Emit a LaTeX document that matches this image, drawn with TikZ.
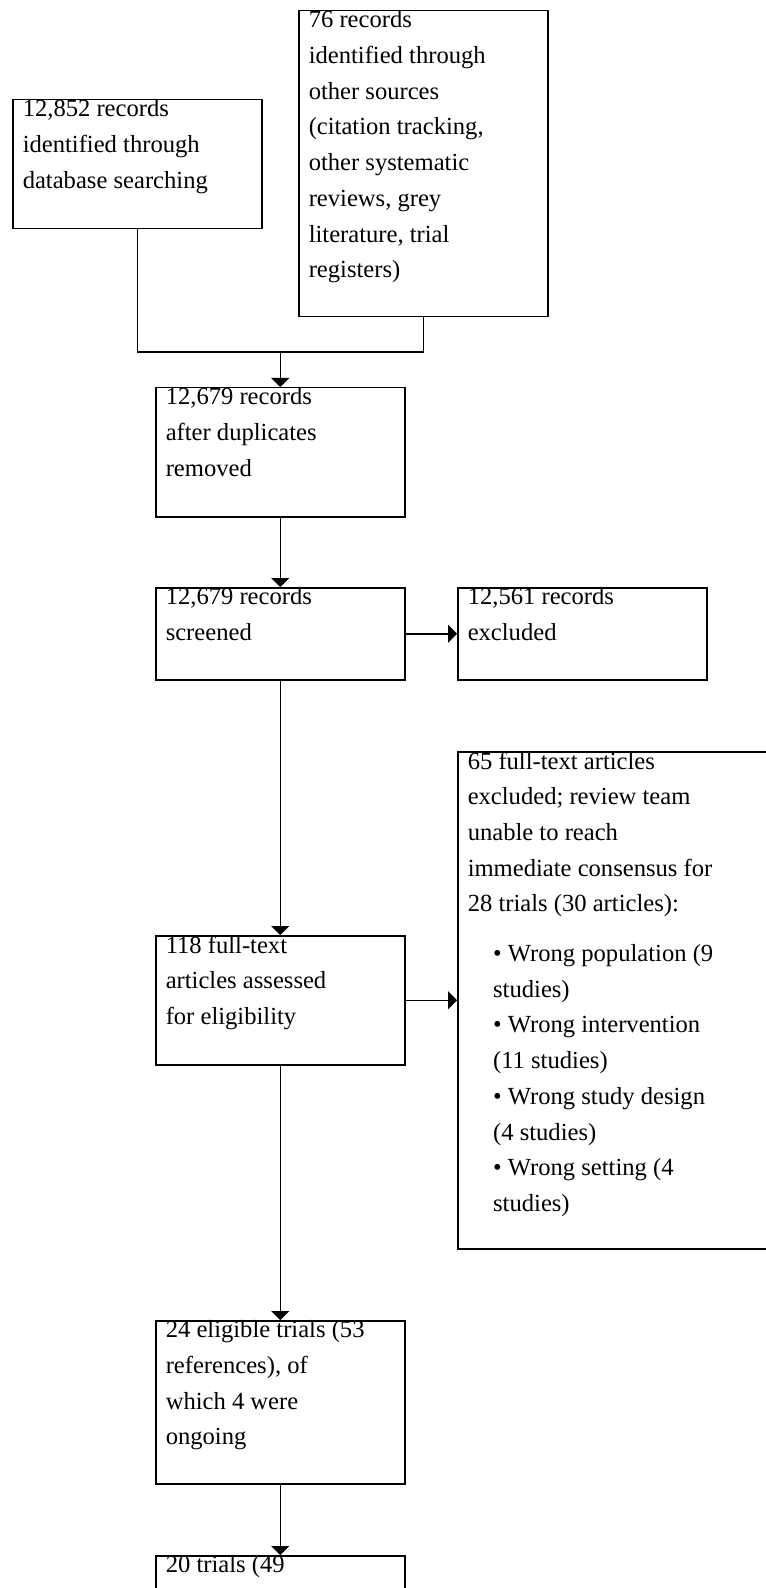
\documentclass[tikz,border=0pt]{standalone}
\usepackage{fontspec}
\setmainfont{Liberation Serif}
\usetikzlibrary{arrows.meta}

\newcommand\boxtxt[3][114.5pt]{\parbox[c][#2][t]{#1}{\raggedright #3}}

\begin{document}
\begin{tikzpicture}[x=0.5pt, y=-0.5pt,
    box/.style={draw, line width=0.75pt, anchor=north west, inner xsep=5pt,
      inner ysep=0pt, font=\fontsize{12.3pt}{17.85pt}\selectfont},
    flow/.style={line width=0.75pt, -{Triangle[width=9pt,length=4.5pt]}}]
  \useasboundingbox (0,0) rectangle (765,1588);
  %sources
  \node[box] (dbsearch) at (12,99)
        {\boxtxt{64.5pt}{12,852 records\\identified through\\database searching}};
  \node[box] (othersrc) at (298,10)
        {\boxtxt{153pt}{76 records\\identified through\\other sources\\(citation tracking,\\
          other systematic\\reviews, grey\\literature, trial\\registers)}};
  %screening
  \node[box] (dupremoved) at (155,387)
        {\boxtxt{64.5pt}{12,679 records\\after duplicates\\removed}};
  \node[box] (screened) at (155,587)
        {\boxtxt{46pt}{12,679 records\\screened}};
  \node[box] (excluded) at (457,587)
        {\boxtxt{46pt}{12,561 records\\excluded}};
  %eligibility
  \node[box] (fulltext) at (155,935)
        {\boxtxt{64.5pt}{118 full-text\\articles assessed\\for eligibility}};
  \node[box] (ftexcluded) at (457,751)
        {\boxtxt[151.5pt]{248.5pt}{65 full-text articles\\excluded; review team\\
          unable to reach\\immediate consensus for\\28 trials (30 articles):\\[7pt]
          \hspace*{12.7pt}• Wrong population (9\\\hspace*{12.7pt}studies)\\
          \hspace*{12.7pt}• Wrong intervention\\\hspace*{12.7pt}(11 studies)\\
          \hspace*{12.7pt}• Wrong study design\\\hspace*{12.7pt}(4 studies)\\
          \hspace*{12.7pt}• Wrong setting (4\\\hspace*{12.7pt}studies)}};
  %included
  \node[box] (eligible) at (155,1320)
        {\boxtxt{81.5pt}{24 eligible trials (53\\references), of\\which 4 were\\ongoing}};
  \node[box] (included) at (155,1555)
        {\boxtxt{64.5pt}{20 trials (49}};
  %connectors
  \coordinate (join) at (dupremoved.north |- 0,352);
  \draw[line width=0.75pt] (dbsearch.south) |- (othersrc.south |- join) -- (othersrc.south);
  \draw[flow] (join) -- (dupremoved.north);
  \draw[flow] (dupremoved.south) -- (screened.north);
  \draw[flow] (screened.east) -- (excluded.west);
  \draw[flow] (screened.south) -- (fulltext.north);
  \draw[flow] (fulltext.east) -- (fulltext.east -| ftexcluded.west);
  \draw[flow] (fulltext.south) -- (eligible.north);
  \draw[flow] (eligible.south) -- (included.north);
\end{tikzpicture}
\end{document}
